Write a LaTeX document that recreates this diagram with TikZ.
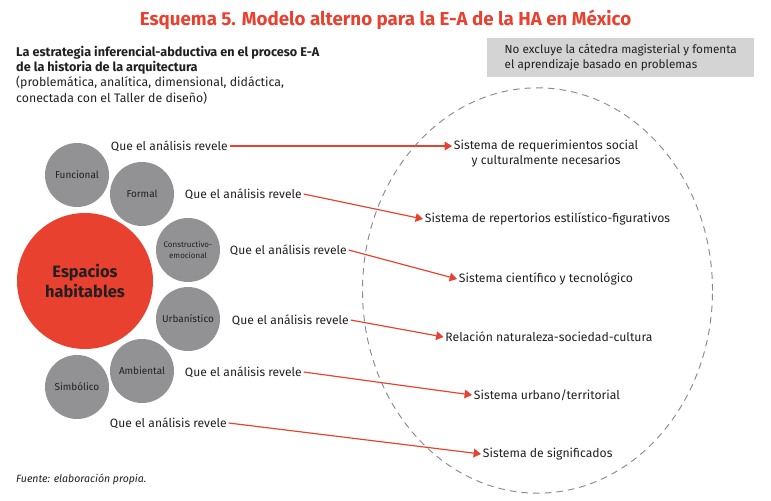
\documentclass[tikz,border=0pt]{standalone}
\usepackage{fontspec}
\setmainfont{Fira Sans}
\usepackage{xcolor}
\usepackage{tikz}
\usetikzlibrary{arrows.meta}
\definecolor{Rojo}{HTML}{E8412F}
\definecolor{Gris}{HTML}{929295}
\definecolor{GrisC}{HTML}{D4D4D5}
\definecolor{GrisL}{HTML}{8A8A8C}
\definecolor{Tinta}{HTML}{231F20}
\tikzset{
  burbuja/.style={circle, fill=Gris, minimum size=1.92cm, inner sep=0pt, align=center, text=Tinta, font=\fontsize{8.5}{10}\selectfont},
  revela/.style={anchor=west, inner sep=1.5pt, text=Tinta, font=\fontsize{10.3}{12}\selectfont},
  sistema/.style={anchor=west, inner sep=1.5pt, align=center, text=Tinta, font=\fontsize{10.4}{12.8}\selectfont},
  flecha/.style={draw=Rojo, line width=1pt, -{Triangle[length=2.2mm, width=2.6mm]}},
}
\begin{document}
\begin{tikzpicture}[x=0.03cm, y=-0.03cm]%
\useasboundingbox (0,0) rectangle (771,501);%
% titulo y textos de cabecera
\node[font=\fontsize{16}{18}\selectfont\bfseries, text=Rojo] (titulo) at (385.5,20) {Esquema 5. Modelo alterno para la E-A de la HA en México};%
\node[anchor=north west, align=left, inner sep=0pt, text=Tinta, font=\fontsize{10.5}{13}\selectfont] (estrategia) at (16,46) {\textbf{\fontsize{10.8}{13}\selectfont La estrategia inferencial-abductiva en el proceso E-A}\\\textbf{\fontsize{10.8}{13}\selectfont de la historia de la arquitectura}\\(problemática, analítica, dimensional, didáctica,\\conectada con el Taller de diseño)};%
\node[anchor=north west, fill=GrisC, minimum width=8.01cm, minimum height=1.17cm, inner sep=0pt, align=left, text=Tinta, font=\fontsize{10}{12.8}\selectfont] (catedra) at (487,38) {No excluye la cátedra magisterial y fomenta\\el aprendizaje basado en problemas};%
% circulo exterior
\draw[GrisL, line width=0.8pt, dash pattern=on 2mm off 1.5mm] (537.5,290.5) ellipse [x radius=5.25cm, y radius=6.08cm];%
% espacios habitables y dimensiones
\node[circle, fill=Rojo, minimum size=4.08cm, inner sep=0pt, align=center, text=Tinta, font=\fontsize{14}{17}\selectfont\bfseries] (espacios) at (85,281) {Espacios\\habitables};%
\node[burbuja] (funcional) at (77,175) {Funcional};%
\node[burbuja] (formal) at (142,194) {Formal};%
\node[burbuja, font=\fontsize{6.8}{9}\selectfont] (constructivo) at (188,250) {Constructivo-\\emocional};%
\node[burbuja] (urbanistico) at (188,319) {Urbanístico};%
\node[burbuja] (ambiental) at (142,371) {Ambiental};%
\node[burbuja] (simbolico) at (77,387) {Simbólico};%
% que el analisis revele
\node[revela] (q1) at (109,146) {Que el análisis revele};%
\node[revela] (q2) at (183,194) {Que el análisis revele};%
\node[revela] (q3) at (228,250) {Que el análisis revele};%
\node[revela] (q4) at (230,320) {Que el análisis revele};%
\node[revela] (q5) at (183,372) {Que el análisis revele};%
\node[revela] (q6) at (108,423) {Que el análisis revele};%
% sistemas
\node[sistema] (s1) at (452,153.5) {Sistema de requerimientos social\\y culturalmente necesarios};%
\node[sistema] (s2) at (423,219) {Sistema de repertorios estilístico-figurativos};%
\node[sistema] (s3) at (457,279) {Sistema científico y tecnológico};%
\node[sistema] (s4) at (443.5,337) {Relación naturaleza-sociedad-cultura};%
\node[sistema] (s5) at (472,395) {Sistema urbano/territorial};%
\node[sistema] (s6) at (481,454) {Sistema de significados};%
% flechas
\draw[flecha] (q1.east) -- (s1.west |- q1.east);%
\draw[flecha] (q2.east) -- (s2.west);%
\draw[flecha] (q3.east) -- (s3.west);%
\draw[flecha] (q4.east) -- (s4.west);%
\draw[flecha] (q5.east) -- (s5.west);%
\draw[flecha] (q6.east) -- (s6.west);%
% fuente
\node[anchor=west, inner sep=0pt, text=Tinta, font=\fontsize{9}{11}\selectfont\itshape] (fuente) at (16,479) {Fuente: elaboración propia.};%
\end{tikzpicture}
\end{document}
